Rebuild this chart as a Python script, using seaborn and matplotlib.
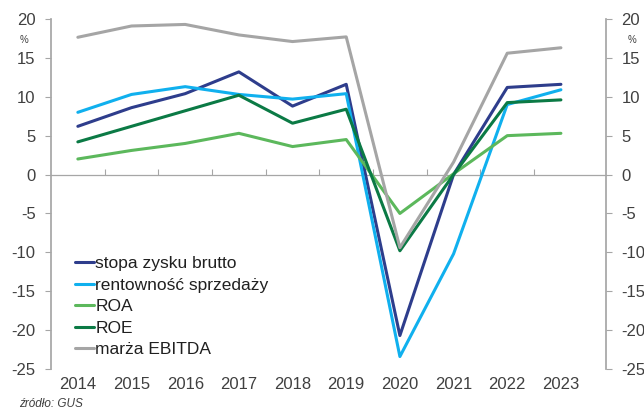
import numpy as np
import pandas as pd
import seaborn as sns
import matplotlib
matplotlib.use("Agg")
import matplotlib.pyplot as plt

years = [2014, 2015, 2016, 2017, 2018, 2019, 2020, 2021, 2022, 2023]
stopa_zysku_brutto = [6.2, 8.6, 10.4, 13.2, 8.8, 11.6, -20.7, 0.0, 11.2, 11.6]
rentownosc_sprzedazy = [8.0, 10.3, 11.3, 10.3, 9.7, 10.4, -23.4, -10.2, 9.0, 10.9]
roa = [2.0, 3.1, 4.0, 5.3, 3.6, 4.5, -5.0, 0.1, 5.0, 5.3]
roe = [4.2, 6.2, 8.2, 10.2, 6.6, 8.4, -9.8, 0.0, 9.25, 9.6]
marza_ebitda = [17.65, 19.1, 19.3, 17.95, 17.1, 17.7, -9.4, 1.6, 15.6, 16.3]

series_names = ["stopa zysku brutto", "rentowność sprzedaży", "ROA", "ROE", "marża EBITDA"]
colors = ["#2E3D8C", "#10B0EE", "#5CB85C", "#0B7A45", "#A5A5A5"]
y_ticks = [20, 15, 10, 5, 0, -5, -10, -15, -20, -25]

df = pd.concat([
    pd.DataFrame({"rok": years, "wartość": vals, "seria": name})
    for name, vals in zip(series_names,
                          [stopa_zysku_brutto, rentownosc_sprzedazy, roa, roe, marza_ebitda])
])

sns.set_theme(style="white")
plt.rcParams["font.family"] = ["Liberation Sans", "DejaVu Sans"]

fig = plt.figure(figsize=(6.44, 4.12), dpi=100)
ax = fig.add_axes([0.0792, 0.1044, 0.8618, 0.8495])

sns.lineplot(data=df, x="rok", y="wartość", hue="seria", hue_order=series_names,
             palette=colors, linewidth=2.2, sort=False, ax=ax, legend=True)

txt_color = "#404040"
axis_color = "#A6A6A6"
ax.set_ylim(-25, 20)
ax.set_xlim(2013.5, 2023.84)
ax.set_yticks(y_ticks)
ax.set_yticklabels([str(v) for v in y_ticks])
ax.set_xticks(years)
ax.set_xticklabels([str(y) for y in years])
ax.set_xlabel("")
ax.set_ylabel("")
for s in ["top", "right", "bottom"]:
    ax.spines[s].set_visible(False)
ax.spines["left"].set_color(axis_color)
ax.tick_params(axis="x", length=0, pad=6, labelsize=12, labelcolor=txt_color)
ax.tick_params(axis="y", left=True, length=4, width=0.8, color=axis_color,
               labelsize=12, labelcolor=txt_color, pad=7)

# zero line with category boundary ticks
sec = ax.secondary_xaxis(25 / 45)
sec.set_xticks([y + 0.5 for y in years[:-1]])
sec.set_xticklabels([])
sec.tick_params(axis="x", direction="out", length=4, color=axis_color, width=0.8)
for sp in sec.spines.values():
    sp.set_color(axis_color)
    sp.set_linewidth(0.9)

# right axis
ax2 = ax.twinx()
ax2.set_ylim(-25, 20)
ax2.set_yticks(y_ticks)
ax2.set_yticklabels([str(v) for v in y_ticks])
for s in ["top", "left", "bottom"]:
    ax2.spines[s].set_visible(False)
ax2.spines["right"].set_color(axis_color)
ax2.tick_params(axis="y", right=True, length=4, width=0.8, color=axis_color,
                labelsize=12, labelcolor=txt_color, pad=7)
ax2.grid(False)

fig.text(0.037, 0.903, "%", fontsize=7, color=txt_color, ha="center", va="center")
fig.text(0.981, 0.903, "%", fontsize=7, color=txt_color, ha="center", va="center")

handles, labels = ax.get_legend_handles_labels()
leg = ax.legend(handles, labels, loc="upper left", bbox_to_anchor=(0.03, 0.342),
                frameon=False, fontsize=12.5, handlelength=1.1, handletextpad=0.1,
                labelspacing=0.36, borderaxespad=0)
for t in leg.get_texts():
    t.set_color("#202020")

fig.text(0.03, 0.012, "źródło: GUS", fontsize=8.5, style="italic", color=txt_color)

fig.savefig("out.png", dpi=100)
